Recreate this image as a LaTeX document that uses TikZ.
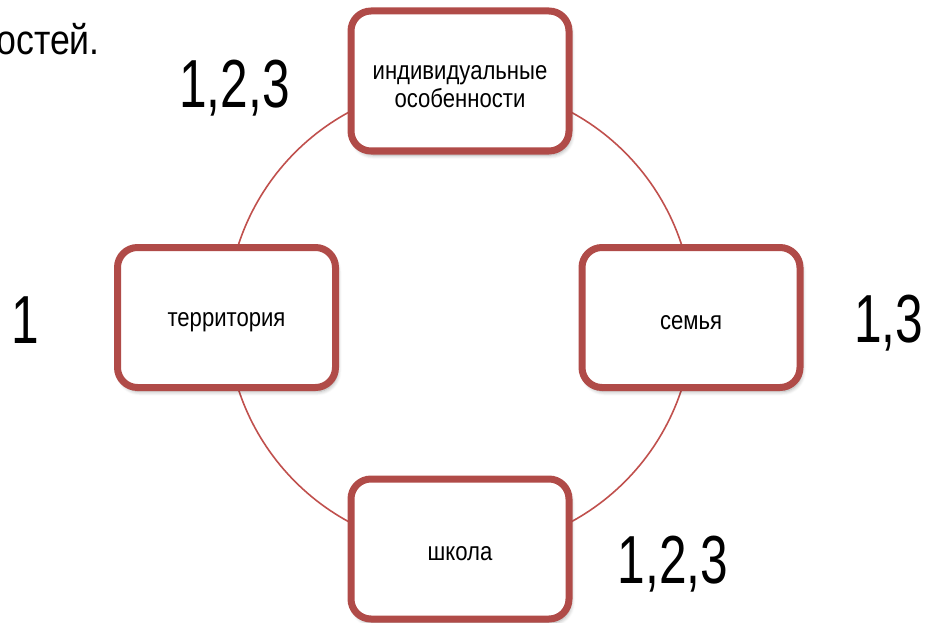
\documentclass[tikz,border=0pt]{standalone}
\usepackage{fontspec}
\setmainfont[FakeStretch=0.85]{Liberation Sans}
\newfontfamily\numfont[FakeStretch=0.73]{Liberation Sans}
\usetikzlibrary{shadows.blur,calc}
\definecolor{boxred}{RGB}{176,75,72}
\definecolor{ringred}{RGB}{192,80,77}
\begin{document}
\begin{tikzpicture}[x=1pt,y=-1pt,
  box/.style={draw=boxred, line width=7pt, fill=white, rounded corners=20pt,
    minimum width=218pt, minimum height=140pt, inner sep=0pt,
    blur shadow={shadow blur steps=6, shadow xshift=2pt, shadow yshift=-4pt, shadow opacity=35, shadow blur radius=4pt}},
  boxtext/.style={inner sep=0pt, align=center, font=\fontsize{26}{28}\selectfont},
  num/.style={font=\numfont\fontsize{68}{68}\selectfont, inner sep=0pt, anchor=base},
  ring/.style={draw=ringred, line width=1.6pt}
]
\useasboundingbox (0,0) rectangle (926,623);
\coordinate (c) at (460,317);
\draw[ring] (c) circle[radius=233];
\node[box] (ind) at (460,81) {};
\node[box] (ter) at (226.5,317.5) {};
\node[box] (sem) at (691,317.5) {};
\node[box] (shk) at (460,549) {};
\node[boxtext] (indt) at ($(ind.center)+(0,6)$) {индивидуальные\\особенности};
\node[boxtext] (tert) at ($(ter.center)+(0,5)$) {территория};
\node[boxtext] (semt) at ($(sem.center)+(0,5)$) {семья};
\node[boxtext] (shkt) at ($(shk.center)+(0,5)$) {школа};
\node[num] (n1) at (234.5,108) {1,2,3};
\node[num] (n2) at (25,343) {1};
\node[num] (n3) at (888.5,342) {1,3};
\node[num] (n4) at (673,583) {1,2,3};
\node[font=\fontsize{42}{42}\selectfont, inner sep=0pt, anchor=base east] (title) at (100,55) {остей.};
\end{tikzpicture}
\end{document}
